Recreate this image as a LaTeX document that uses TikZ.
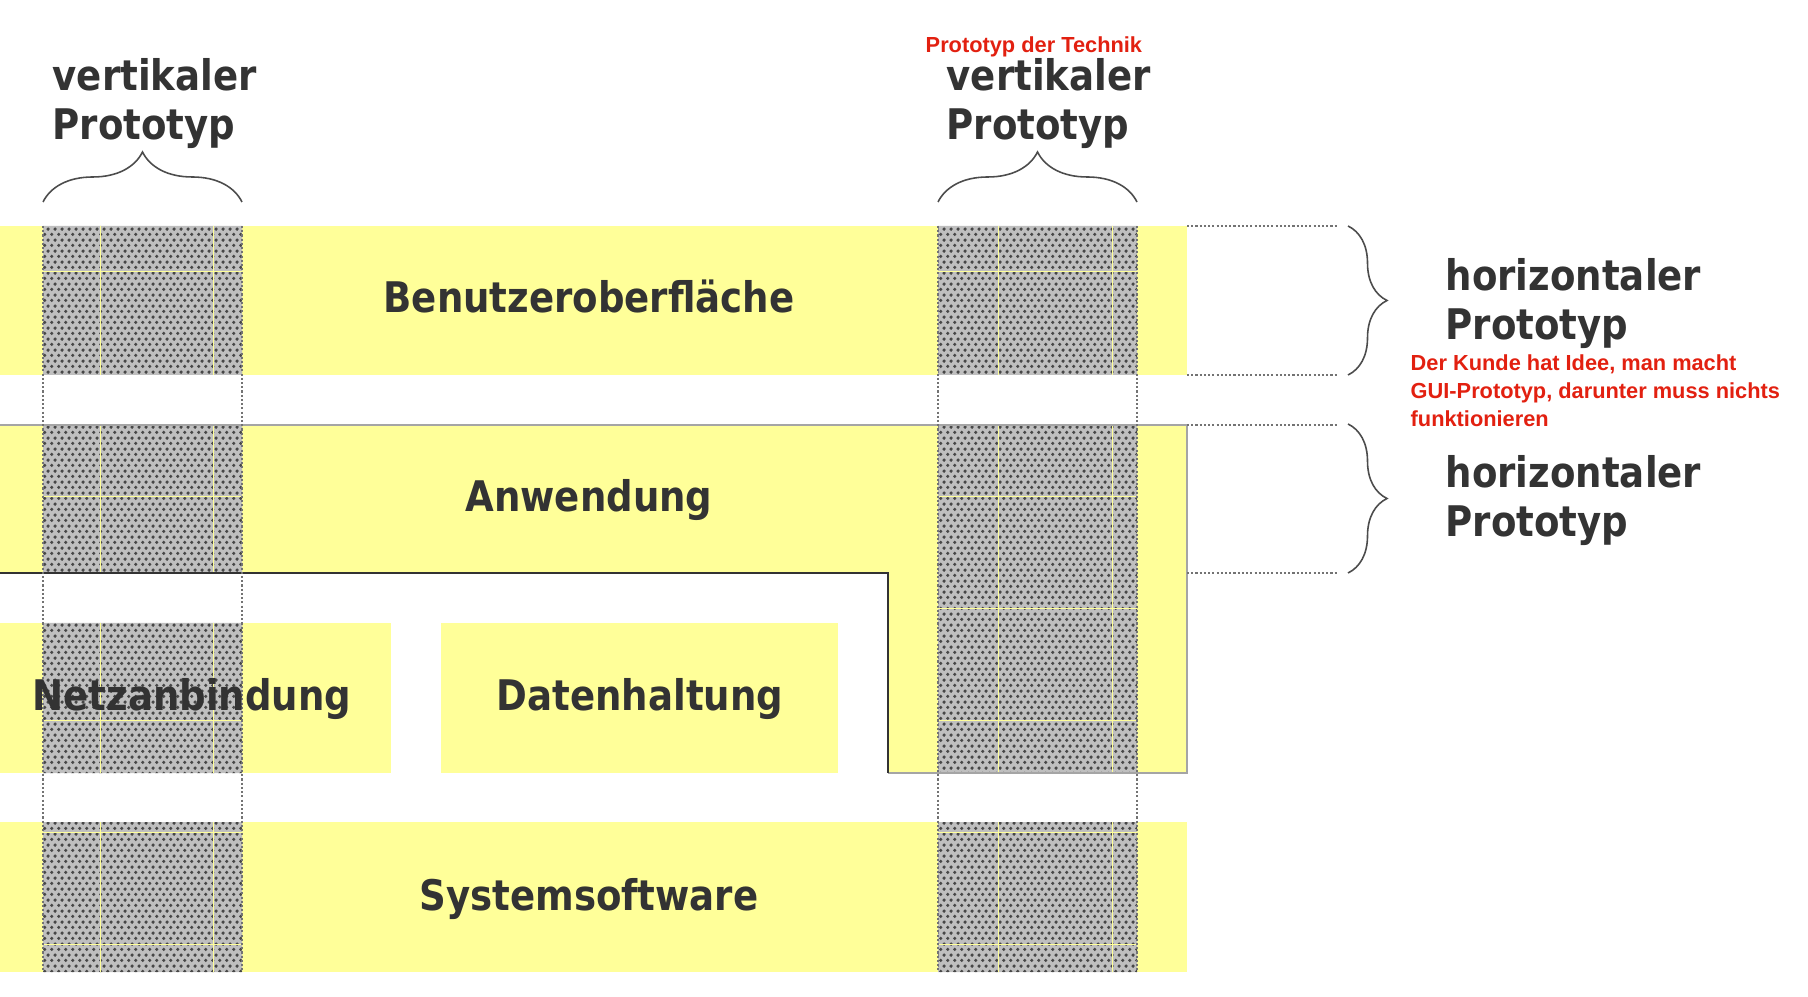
\documentclass[tikz,border=0pt]{standalone}
\usepackage{fontspec}
\setmainfont{DejaVu Sans}
\newfontfamily\boxfont{DejaVu Sans}[FakeStretch=0.88]
\newfontfamily\notefont{Liberation Sans}
\usepackage{tikz}
\usetikzlibrary{patterns,decorations.pathreplacing}
\usepackage{xcolor}
\definecolor{layery}{RGB}{255,255,153}
\definecolor{txtg}{RGB}{51,51,51}
\definecolor{noter}{RGB}{226,32,16}
\definecolor{edgeg}{RGB}{165,165,165}
\pgfdeclarepatternformonly{protodots}{\pgfpointorigin}{\pgfqpoint{2.1pt}{3.2pt}}{\pgfqpoint{2.1pt}{3.2pt}}{%
  \pgfpathcircle{\pgfqpoint{0.525pt}{0.8pt}}{0.55pt}
  \pgfpathcircle{\pgfqpoint{1.575pt}{2.4pt}}{0.55pt}
  \pgfusepath{fill}}

\begin{document}
\begin{tikzpicture}[
  layer/.style={font=\boxfont\fontsize{12}{14}\selectfont\bfseries, text=txtg, inner sep=0pt},
  caption/.style={layer, align=left, anchor=base west},
  note/.style={font=\notefont\fontsize{6.2}{8}\selectfont\bfseries, text=noter, align=left, anchor=base west, inner sep=0pt},
  gridline/.style={layery, line width=0.25pt},
  guide/.style={black!55, line width=0.3pt, dash pattern=on 0.6pt off 0.6pt},
  bracket/.style={black!70, line width=0.45pt, decorate, decoration={brace, amplitude=#1}}
]
  \useasboundingbox (0,0) rectangle (18.08,9.96);
  % layers
  \fill[layery] (0,7.70) rectangle (11.87,6.21);
  \fill[layery] (0,5.71) -| (11.87,2.23) -| (8.88,4.23) -| cycle;
  \fill[layery] (0,3.73) rectangle (3.91,2.23);
  \fill[layery] (4.41,3.73) rectangle (8.38,2.23);
  \fill[layery] (0,1.74) rectangle (11.87,0.24);
  % vertical prototypes
  \begin{scope}
    \clip (0.43,7.70) rectangle (2.42,6.21) (0.43,5.71) rectangle (2.42,4.23)
          (0.43,3.73) rectangle (2.42,2.23) (0.43,1.74) rectangle (2.42,0.24)
          (9.38,7.70) rectangle (11.37,6.21) (9.38,5.71) rectangle (11.37,2.23)
          (9.38,1.74) rectangle (11.37,0.24);
    \fill[black!25] (0,0) rectangle (12,8);
    \fill[pattern=protodots, pattern color=black!72] (0,0) rectangle (12,8);
    \foreach \gx in {1.00,2.13,9.98,11.12}
      \draw[gridline] (\gx,0) -- (\gx,8);
    \foreach \gy in {7.25,5.00,3.88,2.76,1.64,0.52}
      \draw[gridline] (0,\gy) -- (12,\gy);
  \end{scope}
  % edges of Anwendung
  \draw[edgeg, line width=0.4pt] (0,5.71) -| (11.87,2.23) -- (8.88,2.23);
  \draw[txtg, line width=0.4pt] (0,4.23) -| (8.88,2.23);
  % guides
  \foreach \gx in {0.43,2.42,9.38,11.37}
    \draw[guide] (\gx,7.70) -- (\gx,0.24);
  \foreach \gy in {7.70,6.21,5.71,4.23}
    \draw[guide] (11.87,\gy) -- (13.38,\gy);
  % braces
  \draw[bracket=5mm] (0.43,7.94) -- (2.42,7.94);
  \draw[bracket=5mm] (9.38,7.94) -- (11.37,7.94);
  \draw[bracket=3.9mm] (13.48,7.70) -- (13.48,6.21);
  \draw[bracket=3.9mm] (13.48,5.72) -- (13.48,4.23);
  % labels
  \node[layer, anchor=base] (gui) at (5.89,6.83) {Benutzeroberfläche};
  \node[layer, anchor=base] (app) at (5.89,4.84) {Anwendung};
  \node[layer, anchor=base] (net) at (1.92,2.85) {Netzanbindung};
  \node[layer, anchor=base] (data) at (6.40,2.85) {Datenhaltung};
  \node[layer, anchor=base] (sys) at (5.89,0.86) {Systemsoftware};
  \node[caption] (vert1) at (0.52,8.56) {vertikaler\\Prototyp};
  \node[caption] (vert2) at (9.46,8.56) {vertikaler\\Prototyp};
  \node[caption] (hor1) at (14.45,6.56) {horizontaler\\Prototyp};
  \node[caption] (hor2) at (14.45,4.59) {horizontaler\\Prototyp};
  \node[note] (tech) at (9.25,9.43) {Prototyp der Technik};
  \node[note] (kunde) at (14.10,5.69) {Der Kunde hat Idee, man macht\\GUI-Prototyp, darunter muss nichts\\funktionieren};
\end{tikzpicture}
\end{document}
